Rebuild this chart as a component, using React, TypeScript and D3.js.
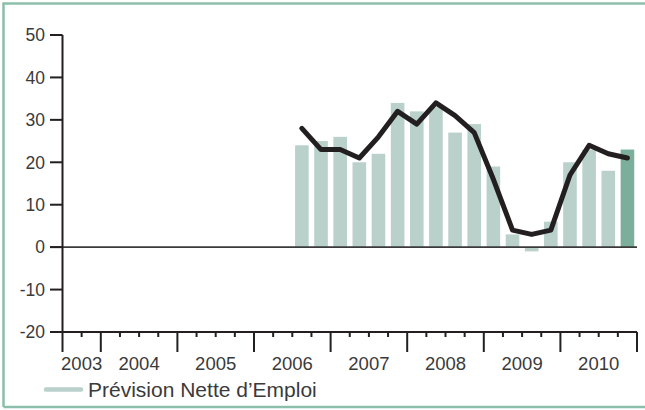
import { scaleBand, scaleLinear, line } from 'd3';

// quarters from Q3 2003 to Q4 2010
const years = ['2003', '2004', '2005', '2006', '2007', '2008', '2009', '2010']
const quartersPerYear = [2, 4, 4, 4, 4, 4, 4, 4]
const yTicks = [50, 40, 30, 20, 10, 0, -10, -20]

// net employment outlook, Q3 2006 .. Q4 2010
const barValues = [24, 25, 26, 20, 22, 34, 32, 33, 27, 29, 19, 3, -1, 6, 20, 23, 18, 23]
// seasonally adjusted line
const lineValues = [28, 23, 23, 21, 26, 32, 29, 34, 31, 27, 16, 4, 3, 4, 17, 24, 22, 21]
const firstDataQuarter = 12

const legendLabel = 'Prévision Nette d\u2019Emploi'

const W = 645
const H = 410
const left = 62.5
const right = 637
const top = 35
const bottom = 332
const ink = '#231f20'
const light = '#b9d1ca'
const dark = '#7caf9b'
const frame = '#8cbfab'
const font = '"Liberation Sans", Arial, Helvetica, sans-serif'

const App = () => {
  const nQ = quartersPerYear.reduce((a, b) => a + b, 0)
  const qIdx = Array.from({ length: nQ }, (_, i) => i)

  const x = scaleBand<number>()
    .domain(qIdx)
    .range([left, right])
    .paddingInner(0.29)
    .paddingOuter(0.145)
  const xb = scaleLinear().domain([0, nQ]).range([left, right])
  const y = scaleLinear().domain([-20, 50]).range([bottom, top])

  const center = (i: number) => x(i)! + x.bandwidth() / 2

  // year boundaries
  const starts: number[] = []
  let acc = 0
  quartersPerYear.forEach(q => { starts.push(acc); acc += q })
  const majors = [...starts, nQ]
  const minors = qIdx.filter(i => !majors.includes(i))

  const path = line<number>()
    .x((_, i) => center(firstDataQuarter + i))
    .y(d => y(d))(lineValues)

  return (
    <svg width={W} height={H} style={{ position: 'absolute', left: 0, top: 0 }} fontFamily={font}>
      <rect x={0} y={0} width={W} height={H} fill="#fff" />
      {/* frame */}
      <path d={`M3.5,407 V3.5 H${W}`} fill="none" stroke={frame} strokeWidth={2.5} />
      <line x1={3.5} x2={W} y1={407} y2={407} stroke={frame} strokeWidth={2.5} />

      {/* bars */}
      {barValues.map((v, i) => (
        <rect
          key={i}
          x={x(firstDataQuarter + i)}
          width={x.bandwidth()}
          y={y(Math.max(0, v))}
          height={Math.abs(y(v) - y(0))}
          fill={i === barValues.length - 1 ? dark : light}
        />
      ))}

      {/* zero line */}
      <line x1={50} x2={right} y1={y(0)} y2={y(0)} stroke="#3a3a3a" strokeWidth={1.8} />

      {/* y axis */}
      <line x1={left} x2={left} y1={top} y2={bottom} stroke={ink} strokeWidth={2} />
      {yTicks.map(t => (
        <g key={t}>
          <line x1={50} x2={left} y1={y(t)} y2={y(t)} stroke={ink} strokeWidth={2} />
          <text x={45} y={y(t)} dy="0.36em" textAnchor="end" fontSize={17.5} fill="#3a3a3a">{t}</text>
        </g>
      ))}

      {/* x axis */}
      <line x1={left} x2={right} y1={bottom} y2={bottom} stroke={ink} strokeWidth={2} />
      {majors.map(m => (
        <line key={'M' + m} x1={xb(m)} x2={xb(m)} y1={bottom} y2={bottom + 20} stroke={ink} strokeWidth={2} />
      ))}
      {minors.map(m => (
        <line key={'m' + m} x1={xb(m)} x2={xb(m)} y1={bottom} y2={bottom + 5} stroke={ink} strokeWidth={2} />
      ))}
      {years.map((yr, i) => (
        <text key={yr} x={(xb(majors[i]) + xb(majors[i + 1])) / 2} y={370} textAnchor="middle" fontSize={18.5} fill="#3a3a3a">{yr}</text>
      ))}

      {/* line series */}
      <path d={path ?? ''} fill="none" stroke={ink} strokeWidth={5} strokeLinejoin="round" strokeLinecap="round" />

      {/* legend */}
      <line x1={46} x2={81} y1={389.5} y2={389.5} stroke={light} strokeWidth={4.5} strokeLinecap="round" />
      <text x={88} y={397} fontSize={21} fill="#3a3a3a">{legendLabel}</text>
    </svg>
  )
}

export default App
